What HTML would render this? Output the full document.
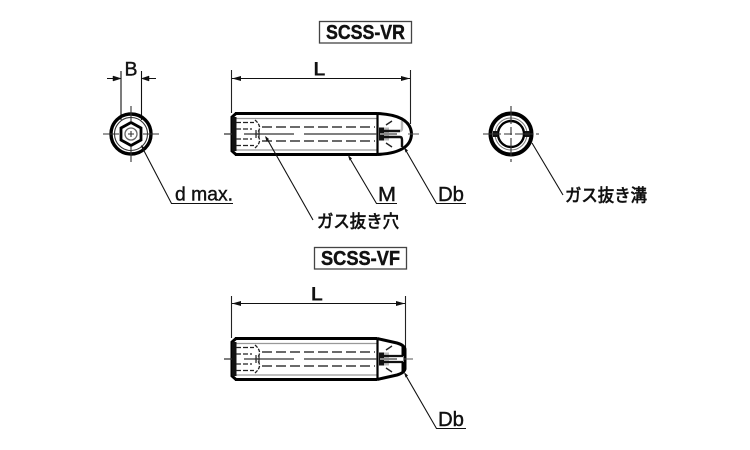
<!DOCTYPE html>
<html><head><meta charset="utf-8"><style>
html,body{margin:0;padding:0;background:#fff}
svg{display:block;filter:blur(.3px)}
text{font-family:"Liberation Sans","Noto Sans CJK JP",sans-serif;fill:#111}
</style></head><body>
<svg width="750" height="450" viewBox="0 0 750 450" xmlns="http://www.w3.org/2000/svg">
<defs>
<g id="bolt">
  <path d="M234 -15.500 H377 M234 16 H377" stroke="#999" stroke-width="1.200" fill="none"/>
  <path d="M235 -20.500 H377 M235 20.500 H377" stroke="#000" stroke-width="3" fill="none"/>
  <path d="M236 -20.500 L232 -17 V17 L236 20.500" stroke="#000" stroke-width="3" fill="none"/>
  <rect x="232" y="-17" width="4.500" height="34" fill="#111"/>
  <path d="M377.500 -20 V20" stroke="#000" stroke-width="2.200"/>
  <path d="M236 -11.500 H254 M236 -5 H252 M236 11.500 H254 M236 5 H252" stroke="#222" stroke-width="1.300" stroke-dasharray="5 2" fill="none"/>
  <path d="M255 -14 Q263 -7 257 -1 M255 14 Q263 7 257 1" stroke="#222" stroke-width="1.300" stroke-dasharray="3.500 1.500" fill="none"/>
  <path d="M262 -7 H375 M262 7 H375" stroke="#555" stroke-width="1.700" stroke-dasharray="10 4" fill="none"/>
  <path d="M224 0 H232 M244 0 H294 M304 0 H377" stroke="#333" stroke-width="1.300" fill="none"/>
  <path d="M256 -4 V4 M259 -4 V4" stroke="#222" stroke-width="1.200"/>
  <rect x="379" y="-6.500" width="5.500" height="13" fill="#111"/>
  <rect x="384" y="-6.500" width="5" height="13" fill="#bbb"/>
  <rect x="380" y="-1" width="17" height="2" fill="#888"/>
</g>
</defs>

<!-- Titles -->
<rect x="319.500" y="21.500" width="92" height="21.500" fill="none" stroke="#444" stroke-width="1.300"/>
<text x="365.500" y="39" font-size="20.500" font-weight="700" text-anchor="middle" textLength="79" lengthAdjust="spacingAndGlyphs" stroke="#111" stroke-width=".45">SCSS-VR</text>
<rect x="314.500" y="247.500" width="92" height="21.500" fill="none" stroke="#444" stroke-width="1.300"/>
<text x="360.500" y="265" font-size="20.500" font-weight="700" text-anchor="middle" textLength="79" lengthAdjust="spacingAndGlyphs" stroke="#111" stroke-width=".45">SCSS-VF</text>

<!-- Left end view -->
<g fill="none">
  <path d="M121 71 V120 M141.500 71 V120" stroke="#111" stroke-width="1.100"/>
  <path d="M107 78.500 H118 M143 78.500 H156" stroke="#111" stroke-width="1.100"/>
  <path d="M121 78.500 L113 76 V81 Z M141.500 78.500 L149 76 V81 Z" fill="#111" stroke="#111" stroke-width=".5"/>
  <circle cx="131" cy="134" r="20" stroke="#000" stroke-width="3.400"/>
  <circle cx="131" cy="134" r="16.500" stroke="#333" stroke-width="1.100"/>
  <path d="M131 122.500 L141 128 V140 L131 145.500 L121 140 V128 Z" stroke="#000" stroke-width="2.800"/>
  <circle cx="131" cy="134" r="6" stroke="#666" stroke-width="1.300"/>
  <path d="M103 134 H119 M143 134 H159 M131 106 V122 M131 146 V162 M128 134 H134 M131 131 V137" stroke="#333" stroke-width="1.100"/>
</g>
<text x="131" y="75.500" font-size="19.500" text-anchor="middle" stroke="#111" stroke-width=".4">B</text>

<!-- Top L dimension -->
<path d="M231.500 70 V113 M410.500 70 V124" stroke="#222" stroke-width="1.100" fill="none"/>
<path d="M232 78.500 H410" stroke="#111" stroke-width="1.100"/>
<path d="M232 78.500 L241 76 V81 Z M410 78.500 L401 76 V81 Z" fill="#111"/>
<text x="319.500" y="75.500" font-size="19.500" font-weight="700" text-anchor="middle">L</text>

<!-- Top bolt -->
<g transform="translate(0,134)">
  <use href="#bolt"/>
  <path d="M377 -20.500 C388 -20 411 -18 411.500 0 C411 18 388 20 377 20.500" fill="none" stroke="#000" stroke-width="3"/>
  <path d="M384 -3 H400 M384 3 H400 Q402 3 402 6 V13" fill="none" stroke="#111" stroke-width="2.400"/>
  <path d="M400 -3 Q402 -3 402 -6 V-13" fill="none" stroke="#111" stroke-width="2.400" opacity=".3"/>
  <path d="M386 -9 L392 -13 M386 9 L392 13" stroke="#222" stroke-width="1.400"/>
  <path d="M408 0 H419" stroke="#555" stroke-width="1"/>
</g>

<!-- Right end view -->
<g fill="none">
  <circle cx="511" cy="134" r="20.500" stroke="#000" stroke-width="4"/>
  <circle cx="511" cy="134" r="16" stroke="#777" stroke-width="1"/>
  <circle cx="511" cy="134" r="13" stroke="#000" stroke-width="2.400"/>
  <rect x="493" y="131" width="5" height="6" fill="#111"/>
  <rect x="525" y="131" width="5" height="6" fill="#111"/>
  <path d="M483 134 H539 M511 106 V162" stroke="#333" stroke-width="1.100" stroke-dasharray="18 3 8 3"/>
</g>

<!-- Leaders -->
<g fill="none" stroke="#111" stroke-width="1.100">
  <path d="M142 147 L171.500 203.500 H233"/>
  <path d="M349 157 L376.500 203.500 H397"/>
  <path d="M405 149 L436.500 203.500 H466"/>
  <path d="M266 137 L313 220"/>
  <path d="M532 143 L563 195"/>
  <path d="M405 374 L436.500 428.500 H466"/>
</g>
<path d="M141 145 L145 148 L142.500 150 Z M348 155 L352 158.500 L349.500 160.500 Z M404 147 L408 150.500 L405.500 152.500 Z M265 136 L269 139 L266.500 141.500 Z M404 372 L408 375.500 L405.500 377.500 Z" fill="#111"/>

<!-- Labels -->
<text x="175" y="200.500" font-size="19.500" textLength="58" lengthAdjust="spacingAndGlyphs" stroke="#111" stroke-width=".4">d max.</text>
<text x="378" y="201" font-size="20" stroke="#111" stroke-width=".4" textLength="18" lengthAdjust="spacingAndGlyphs">M</text>
<text x="438" y="201" font-size="20" stroke="#111" stroke-width=".4" textLength="26" lengthAdjust="spacingAndGlyphs">Db</text>
<text x="438" y="426" font-size="20" stroke="#111" stroke-width=".4" textLength="26" lengthAdjust="spacingAndGlyphs">Db</text>
<text x="317" y="227.500" font-size="17.500" textLength="82" lengthAdjust="spacingAndGlyphs" stroke="#111" stroke-width=".7">ガス抜き穴</text>
<text x="565" y="201.500" font-size="17.500" textLength="82" lengthAdjust="spacingAndGlyphs" stroke="#111" stroke-width=".7">ガス抜き溝</text>

<!-- Bottom L dimension -->
<path d="M231.500 296 V338 M405.500 296 V352" stroke="#222" stroke-width="1.100" fill="none"/>
<path d="M232 303.500 H405" stroke="#111" stroke-width="1.100"/>
<path d="M232 303.500 L241 301 V306 Z M405 303.500 L396 301 V306 Z" fill="#111"/>
<text x="317" y="300.500" font-size="19.500" font-weight="700" text-anchor="middle">L</text>

<!-- Bottom bolt -->
<g transform="translate(0,359)">
  <use href="#bolt"/>
  <path d="M377 -20.500 L397 -16 Q404 -14 405 -10 V10 Q404 14 397 16 L377 20.500" fill="none" stroke="#000" stroke-width="3"/>
  <path d="M384 -3 H403 M384 3 H403" fill="none" stroke="#111" stroke-width="2.200"/>
  <path d="M403 -13 V-3 M403 3 V13" stroke="#000" stroke-width="3"/>
  <path d="M386 -9 L392 -13 M386 9 L392 13" stroke="#222" stroke-width="1.400"/>
  <path d="M404 0 H413" stroke="#555" stroke-width="1"/>
</g>
</svg>
</body></html>
